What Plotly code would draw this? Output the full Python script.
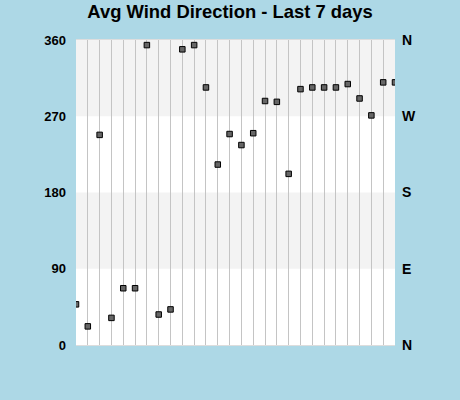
import plotly.graph_objects as go

# 6-hourly samples over the last 7 days
samples = list(range(28))
wind_dir = [48, 22, 248, 32, 67, 67, 354, 36, 42, 349, 354, 304,
            213, 249, 236, 250, 288, 287, 202, 302, 304, 304, 304, 308,
            291, 271, 310, 310]

deg_ticks = [0, 90, 180, 270, 360]
compass_ticks = ["N", "E", "S", "W", "N"]
# shaded bands (degrees)
bands = [(90, 180), (270, 360)]

fig = go.Figure()
fig.add_trace(go.Scatter(
    x=samples, y=wind_dir,
    mode='markers',
    marker=dict(symbol='square', size=5.5, color='#666666',
                line=dict(color='black', width=1)),
    hoverinfo='y',
    showlegend=False
))
# dummy trace so the compass axis shows up on the right
fig.add_trace(go.Scatter(x=[samples[0]], y=[0], yaxis='y2',
                         mode='markers', marker=dict(opacity=0),
                         hoverinfo='skip', showlegend=False))

shapes = []
for lo, hi in bands:
    shapes.append(dict(type='rect', xref='paper', yref='y',
                       x0=0, x1=1, y0=lo, y1=hi,
                       fillcolor='#f3f3f3', line=dict(width=0), layer='below'))

fig.update_layout(
    width=460, height=400,
    paper_bgcolor='#add8e6',
    plot_bgcolor='white',
    margin=dict(l=76, r=65, t=40, b=55),
    title=dict(text='<b>Avg Wind Direction - Last 7 days</b>',
               x=0.5, xanchor='center', y=0.97, yanchor='middle',
               font=dict(family='Liberation Sans', size=18.4, color='black')),
    shapes=shapes,
    xaxis=dict(range=[samples[0], samples[-1]], tickvals=samples,
               showticklabels=False, showgrid=True, gridcolor='#c4c4c4',
               gridwidth=1, zeroline=False, showline=True,
               linecolor='#dddddd', mirror=True, ticks=''),
    yaxis=dict(range=[0, 360], tickvals=deg_ticks,
               ticktext=['<b>%d</b>' % v for v in deg_ticks],
               showgrid=False, zeroline=False, ticks='',
               tickfont=dict(family='Liberation Sans', size=13, color='black'),
               ticklabelstandoff=9),
    yaxis2=dict(range=[0, 360], tickvals=deg_ticks,
                ticktext=['<b>%s</b>' % t for t in compass_ticks],
                overlaying='y', side='right', showgrid=False,
                zeroline=False, ticks='',
                tickfont=dict(family='Liberation Sans', size=14, color='black'),
                ticklabelstandoff=6),
)

# drop the default page margin so the chart sits at the window corner
fig.write_html("out.html", config={'displayModeBar': False},
               post_script="document.body.style.margin='0';")
